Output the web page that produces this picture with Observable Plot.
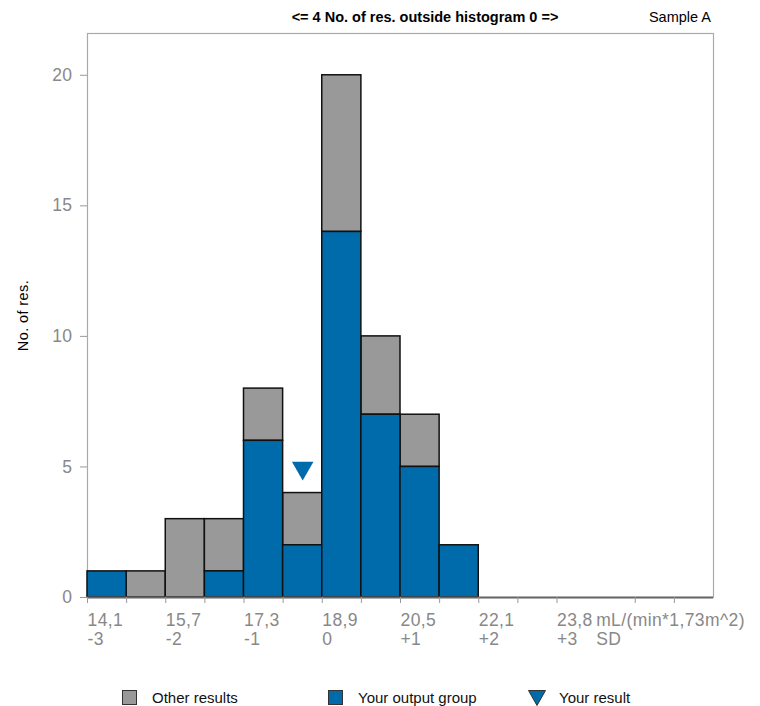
<!DOCTYPE html>
<html>
<head>
<meta charset="utf-8">
<script src="https://cdn.jsdelivr.net/npm/d3@7"></script>
<script src="https://cdn.jsdelivr.net/npm/@observablehq/plot@0.6"></script>
<style>
  body { margin: 0; background: #fff; font-family: "Liberation Sans", Arial, sans-serif; }
  #wrap { position: relative; width: 760px; }
  #title { position: absolute; top: 9px; left: 425px; transform: translateX(-50%); font-size: 14.5px; font-weight: bold; white-space: nowrap; }
  #sample { position: absolute; top: 9px; right: 49px; font-size: 14.5px; white-space: nowrap; }
  #legend { position: relative; height: 41px; font-size: 15px; color: #111; }
  .item { position: absolute; top: 24px; display: flex; align-items: center; }
  .sw { width: 13px; height: 13px; border: 1px solid #333; margin-right: 15px; }
  svg text { letter-spacing: 0.4px; }
</style>
</head>
<body>
<div id="wrap">
  <div id="title">&lt;= 4 No. of res. outside histogram 0 =&gt;</div>
  <div id="sample">Sample A</div>
  <div id="chart"></div>
  <div id="legend">
    <div class="item" style="left:122px"><div class="sw" style="background:#999999"></div>Other results</div>
    <div class="item" style="left:328px"><div class="sw" style="background:#006BAA"></div>Your output group</div>
    <div class="item" style="left:528px"><svg width="18" height="16" style="margin-right:13px"><path d="M0.5,0.5 L17.5,0.5 L9,15.5 Z" fill="#006BAA" stroke="#333" stroke-width="1"/></svg>Your result</div>
  </div>
</div>
<script>
// Histogram bins (mL/(min*1,73m^2))
const binStart = [14.1, 14.9, 15.7, 16.5, 17.3, 18.1, 18.9, 19.7, 20.5, 21.3];
const binEnd   = [14.9, 15.7, 16.5, 17.3, 18.1, 18.9, 19.7, 20.5, 21.3, 22.1];
const yourGroup    = [1, 0, 0, 1, 6, 2, 14, 7, 5, 2];
const otherResults = [0, 1, 3, 2, 2, 2, 6, 3, 2, 0];

// Your result
const yourResult = 18.5;

// Axis ticks and labels
const tickValues = [14.1, 14.9, 15.7, 16.5, 17.3, 18.1, 18.9, 19.7, 20.5, 21.3, 22.1, 22.9, 23.7, 25.3, 26.1];
const labelValues = [14.1, 15.7, 17.3, 18.9, 20.5, 22.1, 23.7, 24.5];
const valueLabels = ["14,1", "15,7", "17,3", "18,9", "20,5", "22,1", "23,8", "mL/(min*1,73m^2)"];
const sdLabels = ["-3", "-2", "-1", "0", "+1", "+2", "+3", "SD"];
const yTicks = [0, 5, 10, 15, 20];

const xDomain = [14.1, 26.9];
const yDomain = [0, 21.6];

const BLUE = "#006BAA", GREY = "#999999";

const bins = binStart.map((s, i) => ({
  x1: s, x2: binEnd[i],
  blue: yourGroup[i],
  total: yourGroup[i] + otherResults[i]
}));
const blueBins = bins.filter(d => d.blue > 0);
const greyBins = bins.filter(d => d.total > d.blue);
const resultBin = bins.find(d => yourResult >= d.x1 && yourResult < d.x2);
const labelMap = new Map(labelValues.map((v, i) => [v, valueLabels[i] + "\n" + sdLabels[i]]));

const chart = Plot.plot({
  width: 760,
  height: 665,
  marginTop: 33,
  marginBottom: 68,
  marginLeft: 87,
  marginRight: 47,
  style: { fontFamily: "Liberation Sans, Arial, sans-serif", background: "#fff" },
  x: { domain: xDomain },
  y: { domain: yDomain },
  marks: [
    Plot.frame({ stroke: "#aaa", strokeWidth: 1.2 }),
    Plot.rectY(greyBins, { x1: "x1", x2: "x2", y1: "blue", y2: "total", fill: GREY, stroke: "#111", strokeWidth: 1.5 }),
    Plot.rectY(blueBins, { x1: "x1", x2: "x2", y1: 0, y2: "blue", fill: BLUE, stroke: "#111", strokeWidth: 1.5 }),
    Plot.dot([resultBin], { x: yourResult, y: "total", dy: -25, symbol: "triangle", rotate: 180, r: 8, fill: BLUE, stroke: "none" }),
    Plot.ruleY([0], { stroke: "#666", strokeWidth: 2 }),
    Plot.axisX({ ticks: tickValues, tickFormat: () => "", tickSize: 6, stroke: "#999", label: null }),
    Plot.axisX({ ticks: labelValues, tickSize: 0, tickPadding: 14, tickFormat: d => labelMap.get(d), textAnchor: "start", fill: "#888", fontSize: 17.5, lineHeight: 1.13, label: null }),
    Plot.axisY({ ticks: yTicks, tickSize: 7, tickPadding: 8, stroke: "#999", fill: "#888", fontSize: 17.5, label: null }),
    Plot.axisY({ ticks: [], label: "No. of res.", labelAnchor: "center", labelArrow: "none", labelOffset: 70, fontSize: 14.5, fill: "#000" })
  ]
});
document.getElementById("chart").appendChild(chart);
</script>
</body>
</html>
